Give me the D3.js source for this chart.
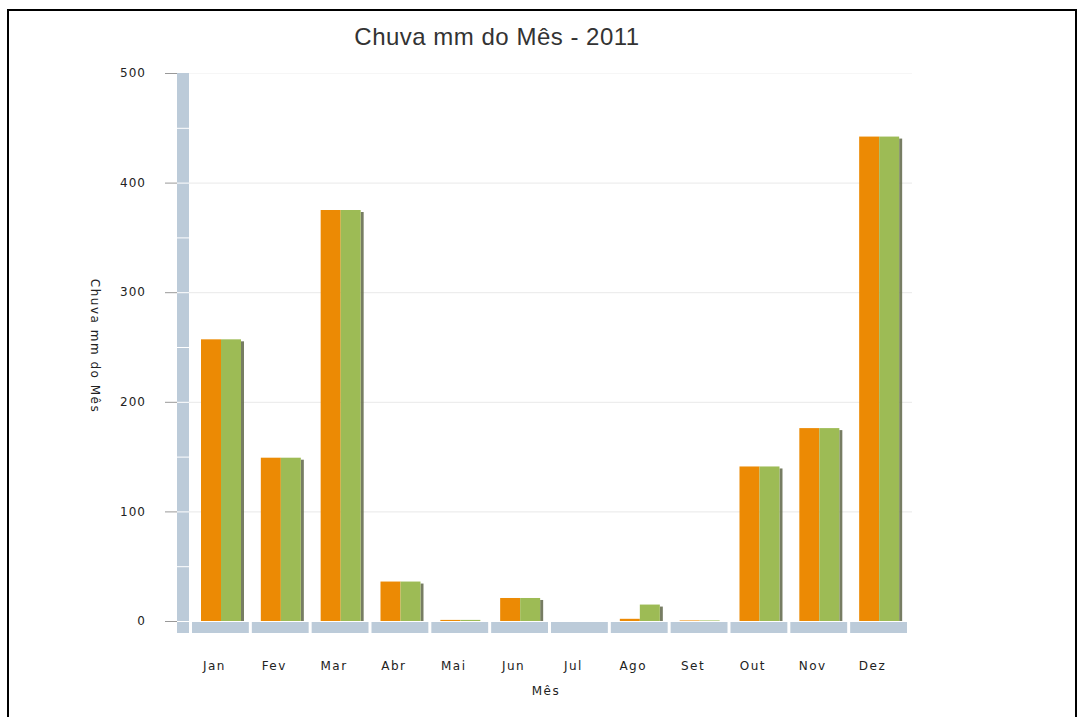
<!DOCTYPE html>
<head>
    <meta charset="utf-8">
    <title>Chuva mm do Mês - 2011</title>
    <script type="text/javascript" src="https://d3js.org/d3.v7.min.js"></script>
    <style>
        body { margin: 0; background: #fff; }
        text { font-family: "DejaVu Sans", Verdana, sans-serif; fill: #222; }
    </style>
</head>
<body>
    <div id="container"></div>

<script>
    //-----------------------------DATA-----------------------------//
    const months = ["Jan", "Fev", "Mar", "Abr", "Mai", "Jun", "Jul", "Ago", "Set", "Out", "Nov", "Dez"];
    const seriesNames = ["chuva", "acumulado"];
    const chuva     = [257, 149, 375, 36, 1, 21, 0, 2, 0.5, 141, 176, 442];
    const acumulado = [257, 149, 375, 36, 1, 21, 0, 15, 0.5, 141, 176, 442];
    const yTicks = [0, 100, 200, 300, 400, 500];
    const wallBreaks = [0, 50, 100, 150, 200, 250, 300, 350, 400, 450, 500];

    const colors = { chuva: "#ec8a04", acumulado: "#9dbb55" };

    const width = 1083;
    const height = 717;

    const svg = d3.select("div#container").append("svg")
        .attr("width", width)
        .attr("height", height);

    // outer frame
    svg.append("rect")
        .attr("x", 8).attr("y", 10)
        .attr("width", 1068).attr("height", 730)
        .attr("fill", "none")
        .attr("stroke", "#000")
        .attr("stroke-width", 2);

    //----------------------------SCALES----------------------------//
    const xScale = d3.scaleBand()
        .domain(months)
        .range([192, 907])
        .paddingInner(0.05)
        .paddingOuter(0);

    const inner = d3.scaleBand()
        .domain(seriesNames)
        .range([9, 49]);

    const yScale = d3.scaleLinear()
        .domain([0, 500])
        .range([621, 73]);

    //----------------------------GRID------------------------------//
    svg.append("g").selectAll("line")
        .data(yTicks.filter(d => d > 0))
        .enter().append("line")
        .attr("x1", 189).attr("x2", 912)
        .attr("y1", d => yScale(d) + 0.5)
        .attr("y2", d => yScale(d) + 0.5)
        .attr("stroke", d => d === 500 ? "#f6f6f6" : "#e9e9e9");

    //----------------------------WALL------------------------------//
    const wall = svg.append("g");
    for (let i = 0; i < wallBreaks.length - 1; i++) {
        const top = yScale(wallBreaks[i + 1]);
        const bot = yScale(wallBreaks[i]);
        const last = i === wallBreaks.length - 2;
        wall.append("rect")
            .attr("x", 177).attr("width", 12)
            .attr("y", top + (last ? 0 : 1))
            .attr("height", bot - top - (last ? 0 : 1))
            .attr("fill", "#bccbd9");
    }
    // floor corner
    wall.append("rect")
        .attr("x", 177).attr("width", 12)
        .attr("y", yScale(0) + 1).attr("height", 11)
        .attr("fill", "#bccbd9");

    // floor
    svg.append("g").selectAll("rect")
        .data(months)
        .enter().append("rect")
        .attr("x", d => xScale(d))
        .attr("width", xScale.bandwidth())
        .attr("y", yScale(0) + 1)
        .attr("height", 11)
        .attr("fill", "#bccbd9");

    //-----------------------------AXES-----------------------------//
    const yAxis = svg.append("g");
    yAxis.selectAll("line")
        .data(yTicks)
        .enter().append("line")
        .attr("x1", 165).attr("x2", 177)
        .attr("y1", d => yScale(d) + 0.5)
        .attr("y2", d => yScale(d) + 0.5)
        .attr("stroke", "#999");
    yAxis.selectAll("text")
        .data(yTicks)
        .enter().append("text")
        .attr("x", 146)
        .attr("y", d => yScale(d))
        .attr("dy", "0.35em")
        .attr("text-anchor", "end")
        .style("font-size", "12px")
        .style("letter-spacing", "1px")
        .text(d => d);

    svg.append("g").selectAll("text")
        .data(months)
        .enter().append("text")
        .attr("x", d => xScale(d) + xScale.bandwidth() / 2 - 6)
        .attr("y", 670)
        .attr("text-anchor", "middle")
        .style("font-size", "12px")
        .style("letter-spacing", "1.5px")
        .text(d => d);

    //----------------------------BARS------------------------------//
    const data = months.map((m, i) => ({ month: m, chuva: chuva[i], acumulado: acumulado[i] }));

    const groups = svg.append("g").selectAll("g")
        .data(data)
        .enter().append("g")
        .attr("transform", d => "translate(" + xScale(d.month) + ",0)");

    // shadow on the right side of the group
    groups.append("rect")
        .attr("x", inner("acumulado") + inner.bandwidth())
        .attr("width", 3)
        .attr("y", d => yScale(d.acumulado) + 2)
        .attr("height", d => Math.max(0, yScale(0) - yScale(d.acumulado) - 2))
        .attr("fill", "#5f6648")
        .attr("opacity", 0.85);

    seriesNames.forEach(function(s) {
        groups.append("rect")
            .attr("x", inner(s))
            .attr("width", inner.bandwidth())
            .attr("y", d => yScale(d[s]))
            .attr("height", d => yScale(0) - yScale(d[s]))
            .attr("fill", colors[s]);
    });

    //----------------------------TITLES----------------------------//
    svg.append("text")
        .attr("x", 497).attr("y", 45)
        .attr("text-anchor", "middle")
        .style("font-family", "'Liberation Sans', Arial, sans-serif")
        .style("font-size", "24px")
        .style("letter-spacing", "0.5px")
        .style("fill", "#333")
        .text("Chuva mm do Mês - 2011");

    svg.append("text")
        .attr("x", 546).attr("y", 695)
        .attr("text-anchor", "middle")
        .style("font-size", "12px")
        .style("letter-spacing", "1.5px")
        .text("Mês");

    svg.append("text")
        .attr("transform", "translate(91,346) rotate(90)")
        .attr("text-anchor", "middle")
        .style("font-size", "12px")
        .style("letter-spacing", "1.5px")
        .text("Chuva mm do Mês");
</script>
</body>
